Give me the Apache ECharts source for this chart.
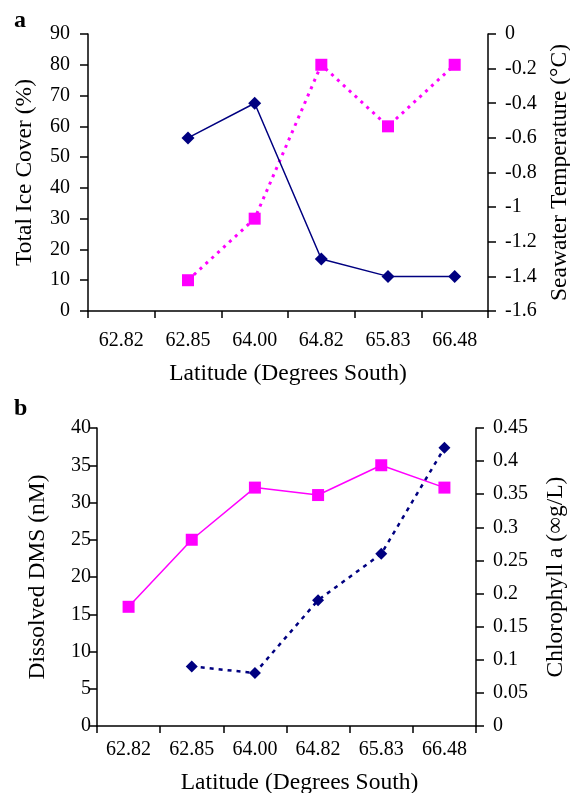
<!DOCTYPE html>
<html>
<head>
<meta charset="utf-8">
<script src="https://cdn.jsdelivr.net/npm/echarts@6/dist/echarts.min.js"></script>
<style>
html,body{margin:0;padding:0;background:#fff;}
#chart{width:570px;height:793px;}
</style>
</head>
<body>
<div id="chart"></div>
<script>
const categories = ['62.82', '62.85', '64.00', '64.82', '65.83', '66.48'];
// Panel a
const iceCover = [null, 10, 30, 80, 60, 80];
const seawaterTemp = [null, -0.6, -0.4, -1.3, -1.4, -1.4];
// Panel b
const dms = [16, 25, 32, 31, 35, 32];
const chlorophyll = [null, 0.09, 0.08, 0.19, 0.26, 0.42];

const FONT = '"Liberation Serif", "Times New Roman", serif';
const NAVY = '#000080';
const MAGENTA = '#FF00FF';
const tickFont = {fontFamily: FONT, fontSize: 20, color: '#000'};
const nameFont = {fontFamily: FONT, fontSize: 23.5, color: '#000'};
const lineStyleAxis = {color: '#000', width: 1.5};

function yAxis(gridIndex, pos, min, max, interval, name, gap, margin) {
  return {
    type: 'value', gridIndex: gridIndex, position: pos,
    min: min, max: max, interval: interval,
    name: name, nameLocation: 'middle', nameGap: gap, nameRotate: 90,
    nameTextStyle: nameFont,
    axisLine: {show: true, onZero: false, lineStyle: lineStyleAxis},
    axisTick: {show: true, length: 8, lineStyle: lineStyleAxis},
    axisLabel: Object.assign({margin: margin}, tickFont),
    splitLine: {show: false}
  };
}
function xAxis(gridIndex, gap, pad, margin) {
  return {
    type: 'category', gridIndex: gridIndex, data: categories, boundaryGap: true,
    name: 'Latitude (Degrees South)', nameLocation: 'middle', nameGap: gap,
    nameTextStyle: Object.assign({padding: pad}, nameFont),
    axisLine: {show: true, onZero: false, lineStyle: lineStyleAxis},
    axisTick: {show: true, length: 7, lineStyle: lineStyleAxis},
    axisLabel: Object.assign({margin: margin, interval: 0}, tickFont),
    splitLine: {show: false}
  };
}

const chart = echarts.init(document.getElementById('chart'), null, {renderer: 'canvas'});
chart.setOption({
  animation: false,
  backgroundColor: '#fff',
  title: [
    {text: 'a', left: 9, top: 4, textStyle: {fontFamily: FONT, fontWeight: 'bold', fontSize: 24, color: '#000'}},
    {text: 'b', left: 9, top: 392, textStyle: {fontFamily: FONT, fontWeight: 'bold', fontSize: 24, color: '#000'}}
  ],
  grid: [
    {left: 88, right: 82, top: 34, height: 277, containLabel: false, outerBoundsMode: 'none'},
    {left: 97, right: 94, top: 428, height: 298, containLabel: false, outerBoundsMode: 'none'}
  ],
  xAxis: [xAxis(0, 51, [0, 0, 0, 0], 20), xAxis(1, 45, [0, 0, 0, 26], 14)],
  yAxis: [
    yAxis(0, 'left', 0, 90, 10, 'Total Ice Cover (%)', 51, 18),
    yAxis(0, 'right', -1.6, 0, 0.2, 'Seawater Temperature (\u00B0C)', 59, 17),
    yAxis(1, 'left', 0, 40, 5, 'Dissolved DMS (nM)', 47, 6),
    yAxis(1, 'right', 0, 0.45, 0.05, 'Chlorophyll a (\u221Eg/L)', 68, 17)
  ],
  series: [
    {
      name: 'Total Ice Cover', type: 'line', xAxisIndex: 0, yAxisIndex: 0,
      data: iceCover, symbol: 'rect', symbolSize: 12,
      itemStyle: {color: MAGENTA},
      lineStyle: {color: MAGENTA, width: 3, type: [3, 5]}
    },
    {
      name: 'Seawater Temperature', type: 'line', xAxisIndex: 0, yAxisIndex: 1,
      data: seawaterTemp, symbol: 'diamond', symbolSize: 13,
      itemStyle: {color: NAVY},
      lineStyle: {color: NAVY, width: 1.5}
    },
    {
      name: 'Dissolved DMS', type: 'line', xAxisIndex: 1, yAxisIndex: 2,
      data: dms, symbol: 'rect', symbolSize: 12,
      itemStyle: {color: MAGENTA},
      lineStyle: {color: MAGENTA, width: 1.5}
    },
    {
      name: 'Chlorophyll a', type: 'line', xAxisIndex: 1, yAxisIndex: 3,
      data: chlorophyll, symbol: 'diamond', symbolSize: 12,
      itemStyle: {color: NAVY},
      lineStyle: {color: NAVY, width: 2.5, type: [4, 5]}
    }
  ]
});
</script>
</body>
</html>
